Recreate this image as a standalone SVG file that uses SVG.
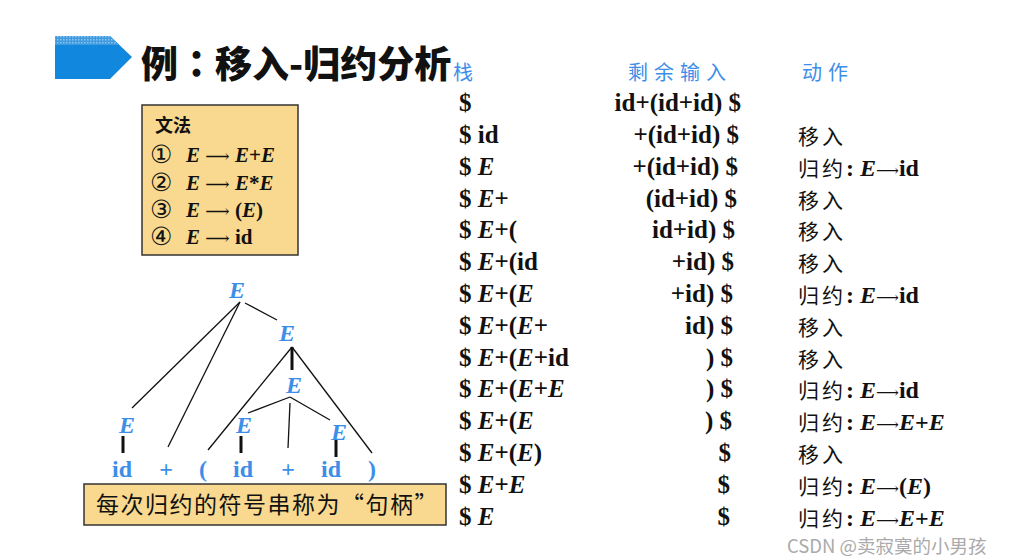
<svg xmlns="http://www.w3.org/2000/svg" width="1012" height="560" viewBox="0 0 1012 560">
<defs>
<pattern id="dots" width="3" height="3" patternUnits="userSpaceOnUse">
<rect width="3" height="3" fill="#3F9BE0"/>
<rect width="1.5" height="1.5" fill="#8CC4EE"/>
</pattern>
<style>
.ser{font-family:"Liberation Serif","Noto Sans CJK SC",serif;font-weight:bold;}
.it{font-style:italic;}
.arr{font-family:"DejaVu Serif","DejaVu Sans",serif;font-weight:normal;font-style:normal;}
.cjk{font-family:"Noto Sans CJK SC",sans-serif;}
.hdr{font-family:"Noto Sans CJK SC",sans-serif;font-size:20px;fill:#3D8EE8;letter-spacing:6px;}
.tbl{font-family:"Liberation Serif","Noto Sans CJK SC",serif;font-weight:bold;font-size:25px;fill:#111;}
.act{font-family:"Noto Sans CJK SC",sans-serif;font-size:21px;fill:#111;letter-spacing:3px;}
.tree{font-family:"Liberation Serif",serif;font-weight:bold;font-size:24px;fill:#3D8EE8;text-anchor:middle;}
.edge{stroke:#111;stroke-width:1.3;fill:none;}
.thick{stroke:#111;stroke-width:3;fill:none;}
.box{fill:#F8D98F;stroke:#333;stroke-width:1.5;}
.num{font-family:"DejaVu Serif",serif;font-weight:normal;font-size:25px;}
</style>
</defs>
<rect width="1012" height="560" fill="#fff"/>

<!-- banner -->
<polygon points="55,36 110,36 132,57 110,79 55,79" fill="#1188DD"/>
<polygon points="55,36 110,36 119,45 55,45" fill="url(#dots)"/>
<text x="141" y="78" class="cjk" font-size="37" font-weight="900" fill="#111">例<tspan font-family="Noto Sans CJK TC, sans-serif">：</tspan>移入-归约分析</text>

<!-- grammar box -->
<g id="grammar">
<rect x="142" y="105" width="156" height="150" class="box"/>
<text x="155" y="132" class="cjk" font-size="18" font-weight="bold" fill="#111">文法</text>
<g class="ser" font-size="21" fill="#111">
<text x="150" y="163" class="num">①</text>
<text x="186" y="162"><tspan class="it">E</tspan> <tspan class="arr" font-size="17">⟶</tspan> <tspan class="it">E</tspan>+<tspan class="it">E</tspan></text>
<text x="150" y="191" class="num">②</text>
<text x="186" y="190"><tspan class="it">E</tspan> <tspan class="arr" font-size="17">⟶</tspan> <tspan class="it">E</tspan>*<tspan class="it">E</tspan></text>
<text x="150" y="218" class="num">③</text>
<text x="186" y="217"><tspan class="it">E</tspan> <tspan class="arr" font-size="17">⟶</tspan> (<tspan class="it">E</tspan>)</text>
<text x="150" y="245" class="num">④</text>
<text x="186" y="244"><tspan class="it">E</tspan> <tspan class="arr" font-size="17">⟶</tspan> id</text>
</g>
</g>

<!-- parse tree connectors -->
<g id="connectors">
<line class="edge" x1="240" y1="302" x2="132" y2="408"/>
<line class="edge" x1="240" y1="302" x2="168" y2="447"/>
<line class="edge" x1="245" y1="303" x2="277" y2="320"/>
<line class="thick" x1="292" y1="347" x2="292" y2="370"/>
<line class="edge" x1="292" y1="347" x2="208" y2="450"/>
<line class="edge" x1="292" y1="347" x2="372" y2="453"/>
<line class="edge" x1="290" y1="397" x2="248" y2="413"/>
<line class="edge" x1="290" y1="403" x2="288" y2="448"/>
<line class="edge" x1="290" y1="397" x2="330" y2="420"/>
<line class="thick" x1="123" y1="436" x2="123" y2="453"/>
<line class="thick" x1="241" y1="436" x2="241" y2="453"/>
<line class="thick" x1="336" y1="440" x2="336" y2="457"/>
</g>

<!-- parse tree nodes -->
<g id="n-root"><text x="237" y="298" class="tree it">E</text></g>
<g id="n-e2"><text x="287" y="341" class="tree it">E</text></g>
<g id="n-e3"><text x="294" y="393" class="tree it">E</text></g>
<g id="n-e4"><text x="127" y="433" class="tree it">E</text></g>
<g id="n-e5"><text x="244" y="433" class="tree it">E</text></g>
<g id="n-e6"><text x="339" y="440" class="tree it">E</text></g>
<g id="l-id1"><text x="122" y="477" class="tree">id</text></g>
<g id="l-plus1"><text x="166" y="477" class="tree">+</text></g>
<g id="l-lp"><text x="203" y="477" class="tree">(</text></g>
<g id="l-id2"><text x="243" y="477" class="tree">id</text></g>
<g id="l-plus2"><text x="288" y="477" class="tree">+</text></g>
<g id="l-id3"><text x="331" y="477" class="tree">id</text></g>
<g id="l-rp"><text x="372" y="477" class="tree">)</text></g>

<!-- handle note -->
<g id="note">
<rect x="84" y="484" width="362" height="41" class="box"/>
<text x="96" y="513" class="cjk" font-size="23" fill="#111" letter-spacing="1.5">每次归约的符号串称为“句柄”</text>
</g>

<!-- table -->
<g id="table">
<text x="453" y="80" class="hdr">栈</text>
<text x="628" y="80" class="hdr">剩余输入</text>
<text x="802" y="80" class="hdr">动作</text>

<g class="tbl">
<text x="459" y="111">$</text>
<text x="459" y="143">$ id</text>
<text x="459" y="175">$ <tspan class="it">E</tspan></text>
<text x="459" y="207">$ <tspan class="it">E</tspan>+</text>
<text x="459" y="238">$ <tspan class="it">E</tspan>+(</text>
<text x="459" y="270">$ <tspan class="it">E</tspan>+(id</text>
<text x="459" y="302">$ <tspan class="it">E</tspan>+(<tspan class="it">E</tspan></text>
<text x="459" y="334">$ <tspan class="it">E</tspan>+(<tspan class="it">E</tspan>+</text>
<text x="459" y="366">$ <tspan class="it">E</tspan>+(<tspan class="it">E</tspan>+id</text>
<text x="459" y="397">$ <tspan class="it">E</tspan>+(<tspan class="it">E</tspan>+<tspan class="it">E</tspan></text>
<text x="459" y="429">$ <tspan class="it">E</tspan>+(<tspan class="it">E</tspan></text>
<text x="459" y="461">$ <tspan class="it">E</tspan>+(<tspan class="it">E</tspan>)</text>
<text x="459" y="493">$ <tspan class="it">E</tspan>+<tspan class="it">E</tspan></text>
<text x="459" y="525">$ <tspan class="it">E</tspan></text>
</g>

<g class="tbl" text-anchor="end">
<text x="741" y="111">id+(id+id) $</text>
<text x="739" y="143">+(id+id) $</text>
<text x="738" y="175">+(id+id) $</text>
<text x="737" y="207">(id+id) $</text>
<text x="735" y="238">id+id) $</text>
<text x="734" y="270">+id) $</text>
<text x="733" y="302">+id) $</text>
<text x="733" y="334">id) $</text>
<text x="733" y="366">) $</text>
<text x="733" y="397">) $</text>
<text x="732" y="429">) $</text>
<text x="731" y="461">$</text>
<text x="730" y="493">$</text>
<text x="730" y="525">$</text>
</g>

<g class="act">
<text x="798" y="144">移入</text>
<text x="798" y="176">归约<tspan class="ser" letter-spacing="0" font-size="24">: <tspan class="it">E</tspan><tspan class="arr" font-size="16">⟶</tspan>id</tspan></text>
<text x="798" y="208">移入</text>
<text x="798" y="239">移入</text>
<text x="798" y="271">移入</text>
<text x="798" y="303">归约<tspan class="ser" letter-spacing="0" font-size="24">: <tspan class="it">E</tspan><tspan class="arr" font-size="16">⟶</tspan>id</tspan></text>
<text x="798" y="335">移入</text>
<text x="798" y="367">移入</text>
<text x="798" y="398">归约<tspan class="ser" letter-spacing="0" font-size="24">: <tspan class="it">E</tspan><tspan class="arr" font-size="16">⟶</tspan>id</tspan></text>
<text x="798" y="430">归约<tspan class="ser" letter-spacing="0" font-size="24">: <tspan class="it">E</tspan><tspan class="arr" font-size="16">⟶</tspan><tspan class="it">E</tspan>+<tspan class="it">E</tspan></tspan></text>
<text x="798" y="462">移入</text>
<text x="798" y="494">归约<tspan class="ser" letter-spacing="0" font-size="24">: <tspan class="it">E</tspan><tspan class="arr" font-size="16">⟶</tspan>(<tspan class="it">E</tspan>)</tspan></text>
<text x="798" y="526">归约<tspan class="ser" letter-spacing="0" font-size="24">: <tspan class="it">E</tspan><tspan class="arr" font-size="16">⟶</tspan><tspan class="it">E</tspan>+<tspan class="it">E</tspan></tspan></text>
</g>
</g>

<text x="787" y="553" font-family="Noto Sans CJK SC, sans-serif" font-size="18.5" fill="#AAAAAA">CSDN @卖寂寞的小男孩</text>
</svg>
